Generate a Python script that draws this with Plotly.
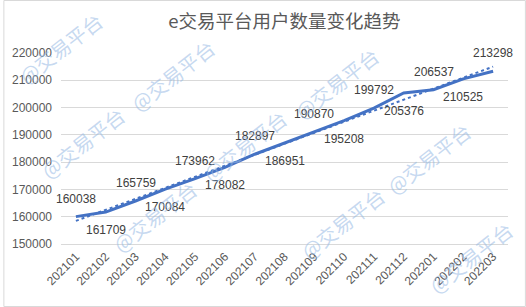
import numpy as np
import plotly.graph_objects as go

months = ["202101", "202102", "202103", "202104", "202105", "202106", "202107", "202108",
          "202109", "202110", "202111", "202112", "202201", "202202", "202203"]
users = [160038, 161709, 165759, 170084, 173962, 178082, 182897, 186951,
         190870, 195208, 199792, 205376, 206537, 210525, 213298]
y_ticks = [150000, 160000, 170000, 180000, 190000, 200000, 210000, 220000]
title_text = "e交易平台用户数量变化趋势"
watermark_text = "@交易平台"

W, H = 526, 307
L, R, T, B = 58, 18, 53, 63
pw, ph = W - L - R, H - T - B

def px(x):
    return (x - L) / pw

def py(y):
    return (H - B - y) / ph

# linear trendline (least squares, like the spreadsheet trendline)
idx = np.arange(len(users))
k, b0 = np.polyfit(idx, users, 1)
trend = k * idx + b0

blue = "#4472C4"
fig = go.Figure()
fig.add_trace(go.Scatter(x=months, y=trend, mode="lines",
                         line=dict(color=blue, width=2, dash="dot"), hoverinfo="skip"))
fig.add_trace(go.Scatter(x=months, y=users, mode="lines",
                         line=dict(color=blue, width=3)))

annotations = []
for i, v in enumerate(users):
    annotations.append(dict(x=i, y=v, xref="x", yref="y", text=str(v), showarrow=False,
                            xanchor="center", yanchor="middle",
                            yshift=18 if i % 2 == 0 else -18,
                            font=dict(size=12, color="#404040", family="Liberation Sans, Arial")))

# watermarks (centers in pixel coords)
wm = [(57, 48), (170, 75), (80, 142), (152, 216), (243, 145), (335, 83), (428, 158),
      (341, 223), (470, 257)]
for (cx, cy) in wm:
    annotations.append(dict(x=px(cx), y=py(cy), xref="paper", yref="paper", text=watermark_text,
                            showarrow=False, textangle=-38, xanchor="center", yanchor="middle",
                            font=dict(size=20, color="rgba(150,185,228,0.55)",
                                      family="Noto Sans CJK SC")))

fig.update_layout(
    width=W, height=H,
    margin=dict(l=L, r=R, t=T, b=B),
    paper_bgcolor="white", plot_bgcolor="white",
    showlegend=False,
    title=dict(text=title_text, x=0.5, xanchor="center", y=1 - 22 / H, yanchor="middle",
               xref="paper",
               font=dict(size=18.5, color="#595959", family="Noto Sans CJK SC")),
    xaxis=dict(type="category", categoryorder="array", categoryarray=months,
               range=[-0.5, len(months) - 0.5], autorange=False,
               tickangle=-45, showgrid=False, showline=True,
               linecolor="#d9d9d9", linewidth=1, ticks="",
               tickfont=dict(size=12, color="#595959", family="Liberation Sans, Arial")),
    yaxis=dict(range=[150000, 220000], autorange=False, tickvals=y_ticks, tickformat="d",
               showgrid=True, gridcolor="#d9d9d9", gridwidth=1, zeroline=False,
               showline=False, ticks="", ticklabelstandoff=8,
               tickfont=dict(size=12, color="#595959", family="Liberation Sans, Arial")),
    annotations=annotations,
    shapes=[dict(type="rect", xref="paper", yref="paper",
                 x0=px(0.5), x1=px(W - 0.5), y0=py(H - 0.5), y1=py(0.5),
                 line=dict(color="#d9d9d9", width=1), fillcolor="rgba(0,0,0,0)", layer="below")],
)

fig.write_html("out.html")
